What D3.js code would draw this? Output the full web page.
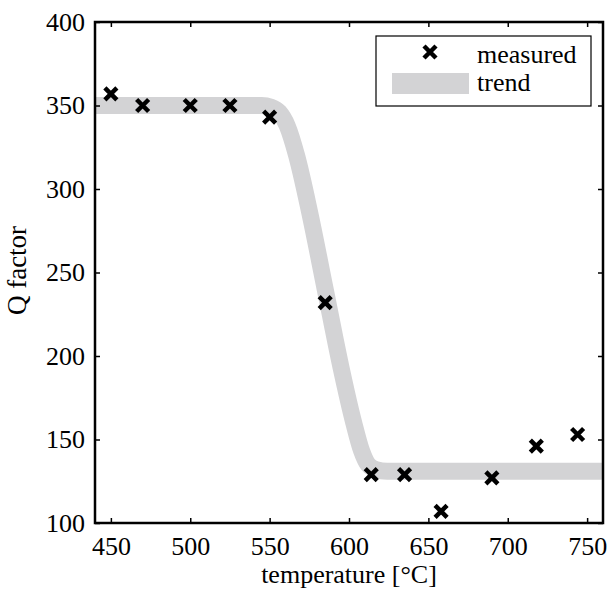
<!DOCTYPE html>
<html>
<head>
<meta charset="utf-8">
<script src="https://cdn.jsdelivr.net/npm/d3@7"></script>
<style>
  body { margin: 0; background: #fff; }
  text { font-family: "Times New Roman", "Liberation Serif", Times, "DejaVu Serif", serif; fill: #000; }
</style>
</head>
<body>
<svg width="609" height="591"></svg>
<script>
// measured Q factor values
const measuredTemp = [450, 470, 500, 525, 550, 585, 614, 635, 658, 690, 718, 744];
const measuredQ    = [357, 350, 350, 350, 343, 232, 129, 129, 107, 127, 146, 153];

// trend curve
const trendTemp = [440, 545, 551, 556, 561, 567, 575, 585, 595, 603, 608, 612, 617, 624, 760];
const trendQ    = [350, 350, 349, 346, 338, 320, 287, 240, 193, 160, 143, 135, 132, 131, 131];

const xTicks = [450, 500, 550, 600, 650, 700, 750];
const yTicks = [100, 150, 200, 250, 300, 350, 400];

const serif = '"Times New Roman", "Liberation Serif", Times, "DejaVu Serif", serif';

const margin = {top: 22, right: 6, bottom: 68, left: 95};
const width = 609 - margin.left - margin.right;
const height = 591 - margin.top - margin.bottom;

const svg = d3.select('svg');
const g = svg.append('g')
    .attr('transform', 'translate(' + margin.left + ',' + margin.top + ')');

const x = d3.scaleLinear().domain([440, 760]).range([0, width]);
const y = d3.scaleLinear().domain([100, 400]).range([height, 0]);

// clip so the thick trend stays in the box
g.append('clipPath').attr('id', 'clip')
  .append('rect').attr('width', width).attr('height', height);

// trend band
const line = d3.line()
    .x((d, i) => x(trendTemp[i]))
    .y(d => y(d))
    .curve(d3.curveMonotoneX);

g.append('path')
    .datum(trendQ)
    .attr('clip-path', 'url(#clip)')
    .attr('d', line)
    .style('fill', 'none')
    .style('stroke', '#d3d3d5')
    .style('stroke-width', 17)
    .style('stroke-linejoin', 'round');

// x markers
function cross(sel, s) {
  sel.append('path')
      .attr('d', 'M' + (-s) + ',' + (-s) + 'L' + s + ',' + s + 'M' + (-s) + ',' + s + 'L' + s + ',' + (-s))
      .style('stroke', '#000')
      .style('stroke-width', 4.5)
      .style('fill', 'none');
}

g.selectAll('.pt')
    .data(measuredQ)
    .enter().append('g')
    .attr('class', 'pt')
    .attr('transform', (d, i) => 'translate(' + x(measuredTemp[i]) + ',' + y(d) + ')')
    .call(cross, 6);

// axes with inward ticks on all four sides
const axisStyle = sel => {
  sel.attr('font-family', serif).attr('font-size', 26);
  sel.select('.domain').remove();
  sel.selectAll('line').style('stroke', '#000').style('stroke-width', 1.5);
  sel.selectAll('text').style('font-size', '26px').attr('font-family', serif);
};

g.append('g')
    .attr('transform', 'translate(0,' + height + ')')
    .call(d3.axisBottom(x).tickValues(xTicks).tickSize(-5).tickPadding(14))
    .call(axisStyle);

g.append('g')
    .call(d3.axisTop(x).tickValues(xTicks).tickSize(-5).tickFormat(''))
    .call(axisStyle);

g.append('g')
    .call(d3.axisLeft(y).tickValues(yTicks).tickSize(-5).tickPadding(10))
    .call(axisStyle);

g.append('g')
    .attr('transform', 'translate(' + width + ',0)')
    .call(d3.axisRight(y).tickValues(yTicks).tickSize(-5).tickFormat(''))
    .call(axisStyle);

g.append('rect')
    .attr('width', width)
    .attr('height', height)
    .style('fill', 'none')
    .style('stroke', '#000')
    .style('stroke-width', 2.5);

// axis titles
g.append('text')
    .attr('x', width / 2)
    .attr('y', height + 60)
    .attr('text-anchor', 'middle')
    .style('font-size', '26px')
    .text('temperature [°C]');

g.append('text')
    .attr('transform', 'rotate(-90)')
    .attr('x', -height / 2 + 2)
    .attr('y', -69)
    .attr('text-anchor', 'middle')
    .style('font-size', '27px')
    .text('Q factor');

// legend
const legend = svg.append('g').attr('transform', 'translate(376,36)');
legend.append('rect')
    .attr('width', 215)
    .attr('height', 70)
    .style('fill', '#fff')
    .style('stroke', '#000')
    .style('stroke-width', 1.2);

legend.append('g')
    .attr('transform', 'translate(54,16)')
    .call(cross, 6);

legend.append('rect')
    .attr('x', 16)
    .attr('y', 37)
    .attr('width', 77)
    .attr('height', 21)
    .style('fill', '#d3d3d5');

legend.append('text')
    .attr('x', 101)
    .attr('y', 27)
    .style('font-size', '26px')
    .text('measured');

legend.append('text')
    .attr('x', 101)
    .attr('y', 55)
    .style('font-size', '26px')
    .text('trend');
</script>
</body>
</html>
